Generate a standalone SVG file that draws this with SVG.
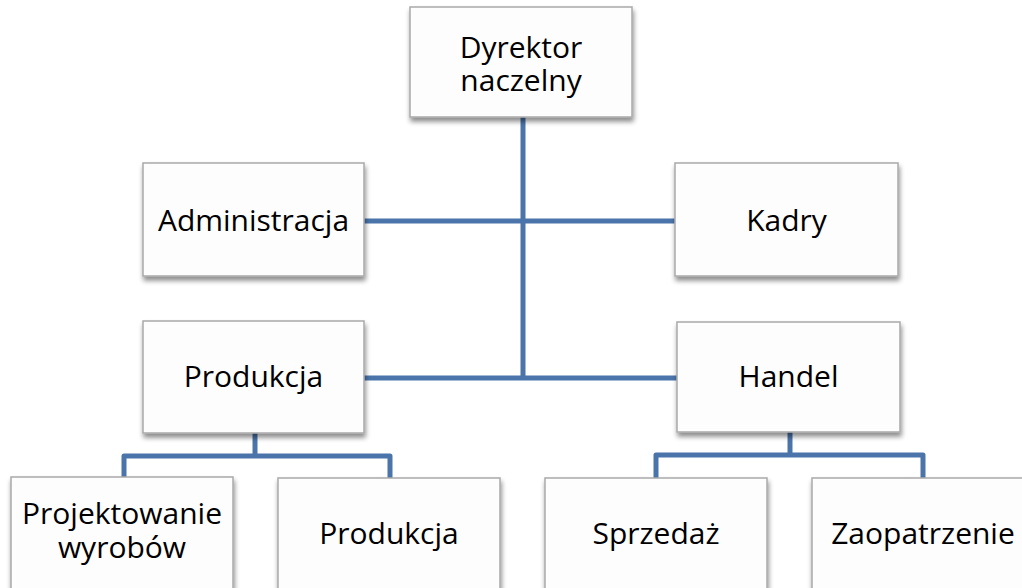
<svg xmlns="http://www.w3.org/2000/svg" width="1022" height="588" viewBox="0 0 1022 588">
<defs>
<filter id="sh" x="-10%" y="-10%" width="125%" height="130%">
<feGaussianBlur in="SourceAlpha" stdDeviation="2.5"/>
<feOffset dx="1" dy="4" result="b"/>
<feComponentTransfer><feFuncA type="linear" slope="0.45"/></feComponentTransfer>
<feMerge><feMergeNode/><feMergeNode in="SourceGraphic"/></feMerge>
</filter>
</defs>
<style>
.box{fill:#fdfdfd;stroke:#a9a9a9;stroke-width:1.5;filter:url(#sh)}
.t{font-family:"Open Sans","Noto Sans",sans-serif;font-size:30px;fill:#000;text-anchor:middle}
.c{fill:none;stroke:#4a74aa;stroke-width:5;stroke-linejoin:round}
</style>
<rect width="1022" height="588" fill="#ffffff"/>
<g id="connectors">
<path class="c" d="M523 117 V378"/>
<path class="c" d="M364 221 H675"/>
<path class="c" d="M364 378 H677"/>
<path class="c" d="M255 433 V456"/>
<path class="c" d="M124 478 V456 H390 V478"/>
<path class="c" d="M790 432 V455"/>
<path class="c" d="M656 478 V455 H923 V478"/>
</g>
<g id="n_dyrektor">
<rect class="box" x="410" y="7" width="222" height="110"/>
<text class="t"><tspan x="521" y="58">Dyrektor</tspan><tspan x="521" y="91">naczelny</tspan></text>
</g>
<g id="n_administracja">
<rect class="box" x="143" y="163" width="221" height="113"/>
<text class="t" x="253.5" y="231">Administracja</text>
</g>
<g id="n_kadry">
<rect class="box" x="675" y="163" width="223" height="113"/>
<text class="t" x="786.5" y="231">Kadry</text>
</g>
<g id="n_produkcja">
<rect class="box" x="143" y="321" width="221" height="112"/>
<text class="t" x="253.5" y="387">Produkcja</text>
</g>
<g id="n_handel">
<rect class="box" x="677" y="322" width="223" height="110"/>
<text class="t" x="788.5" y="387">Handel</text>
</g>
<g id="n_projektowanie">
<rect class="box" x="11" y="477" width="222" height="113"/>
<text class="t"><tspan x="122" y="524">Projektowanie</tspan><tspan x="122" y="558">wyrobów</tspan></text>
</g>
<g id="n_produkcja2">
<rect class="box" x="278" y="478" width="222" height="113"/>
<text class="t" x="389" y="544">Produkcja</text>
</g>
<g id="n_sprzedaz">
<rect class="box" x="545" y="478" width="222" height="113"/>
<text class="t" x="656" y="544">Sprzedaż</text>
</g>
<g id="n_zaopatrzenie">
<rect class="box" x="812" y="478" width="222" height="113"/>
<text class="t" x="923" y="544">Zaopatrzenie</text>
</g>
</svg>
